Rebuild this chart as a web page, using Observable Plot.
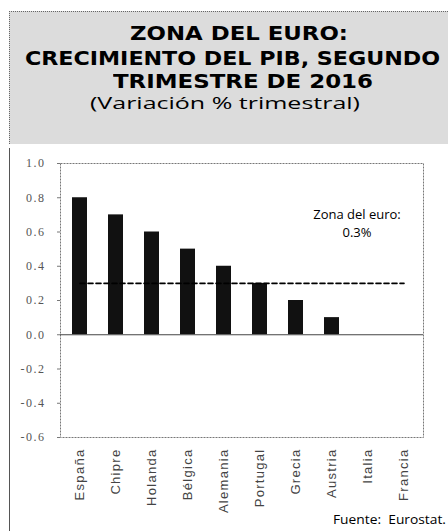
<!DOCTYPE html>
<html>
<head>
<meta charset="utf-8">
<script src="https://cdn.jsdelivr.net/npm/d3@7"></script>
<script src="https://cdn.jsdelivr.net/npm/@observablehq/plot@0.6"></script>
<style>
  html, body { margin: 0; padding: 0; background: #fff; }
  #wrap { position: relative; width: 448px; height: 531px; overflow: hidden; background: #fff; }
  #titlebox { position: absolute; left: 9px; top: 11px; width: 439px; height: 133px;
    background: #dcdcdc; border-top: 1px dotted #666; border-left: 1px dotted #666; box-sizing: border-box; }
  .tl { position: absolute; font-family: "DejaVu Sans", sans-serif; color: #000; white-space: pre; transform-origin: 0 0; line-height: 1; }
  .tb { font-weight: 700; font-size: 19px; }
  .sub { font-size: 17px; font-weight: 400; font-family: "Open Sans", "DejaVu Sans", sans-serif; }
  .src { font-family: "Open Sans", sans-serif; font-size: 12.5px; }
  #leftline { position: absolute; left: 9px; top: 148px; height: 383px; border-left: 1px solid #555; }
  #chart { position: absolute; left: 0; top: 145px; }
</style>
</head>
<body>
<div id="wrap">
  <div id="titlebox"></div>
  <span class="tl tb" data-x0="130" data-x1="348" style="top:24px">ZONA DEL EURO:</span>
  <span class="tl tb" data-x0="25" data-x1="440" style="top:49px">CRECIMIENTO DEL PIB, SEGUNDO</span>
  <span class="tl tb" data-x0="113" data-x1="373" style="top:72px">TRIMESTRE DE 2016</span>
  <span class="tl sub" data-x0="90" data-x1="360" style="top:94px">(Variación % trimestral)</span>
  <div id="leftline"></div>
  <div id="chart"></div>
  <span class="tl src" data-x0="333" data-x1="446" style="top:514px">Fuente:  Eurostat.</span>
</div>
<script>
const countries = ["España", "Chipre", "Holanda", "Bélgica", "Alemania", "Portugal", "Grecia", "Austria", "Italia", "Francia"];
const growth = [0.8, 0.7, 0.6, 0.5, 0.4, 0.3, 0.2, 0.1, 0.0, 0.0];
const euroZone = 0.3;
const yTicks = [-0.6, -0.4, -0.2, 0.0, 0.2, 0.4, 0.6, 0.8, 1.0];
const annotation = "Zona del euro:\n0.3%";

const data = countries.map((c, i) => ({country: c, value: growth[i]}));
const euroLine = countries.map(c => ({country: c, value: euroZone}));

const fmt = d => d3.format(".1f")(d).replace("−", "-");

// fit header/caption text lines to the widths they take in the reference
document.querySelectorAll(".tl").forEach(el => {
  const x0 = +el.dataset.x0, x1 = +el.dataset.x1;
  const w = el.getBoundingClientRect().width;
  el.style.left = x0 + "px";
  el.style.transform = `scaleX(${(x1 - x0) / w})`;
});

const chart = Plot.plot({
  width: 448,
  height: 386,
  marginLeft: 60,
  marginRight: 25,
  marginTop: 18,
  marginBottom: 94,
  style: {background: "transparent", overflow: "visible"},
  x: {domain: countries, paddingInner: 0.59, paddingOuter: 0.29, label: null},
  y: {domain: [-0.6, 1.0], label: null},
  marks: [
    Plot.frame({stroke: "#777", strokeDasharray: "2,1"}),
    Plot.barY(data, {x: "country", y: "value", fill: "#111"}),
    Plot.ruleY([0], {stroke: "#444", strokeWidth: 1}),
    Plot.lineY(euroLine, {x: "country", y: "value", stroke: "#000", strokeWidth: 1.6, strokeDasharray: "5,3"}),
    Plot.text([annotation], {x: () => "Italia", y: () => euroZone, text: d => d, dx: -11, dy: -46, lineAnchor: "bottom", lineHeight: 1.4, fontSize: 13, fill: "#000", fontFamily: "'Open Sans', sans-serif"}),
    Plot.axisY(yTicks, {tickSize: 3, tickPadding: 12, tickFormat: fmt, fontSize: 12, fill: "#555", stroke: "#777", fontFamily: "'Liberation Serif', serif", label: null}),
    Plot.axisX({tickSize: 0, tickPadding: 11, tickRotate: -90, fontSize: 13, fill: "#444", fontFamily: "'Liberation Sans', Arial, sans-serif", label: null})
  ]
});
document.getElementById("chart").appendChild(chart);
d3.select(chart).selectAll("[aria-label='y-axis tick label'] text").style("letter-spacing", "1.5px");
d3.select(chart).selectAll("[aria-label='x-axis tick label'] text").style("letter-spacing", "1.3px");
</script>
</body>
</html>
